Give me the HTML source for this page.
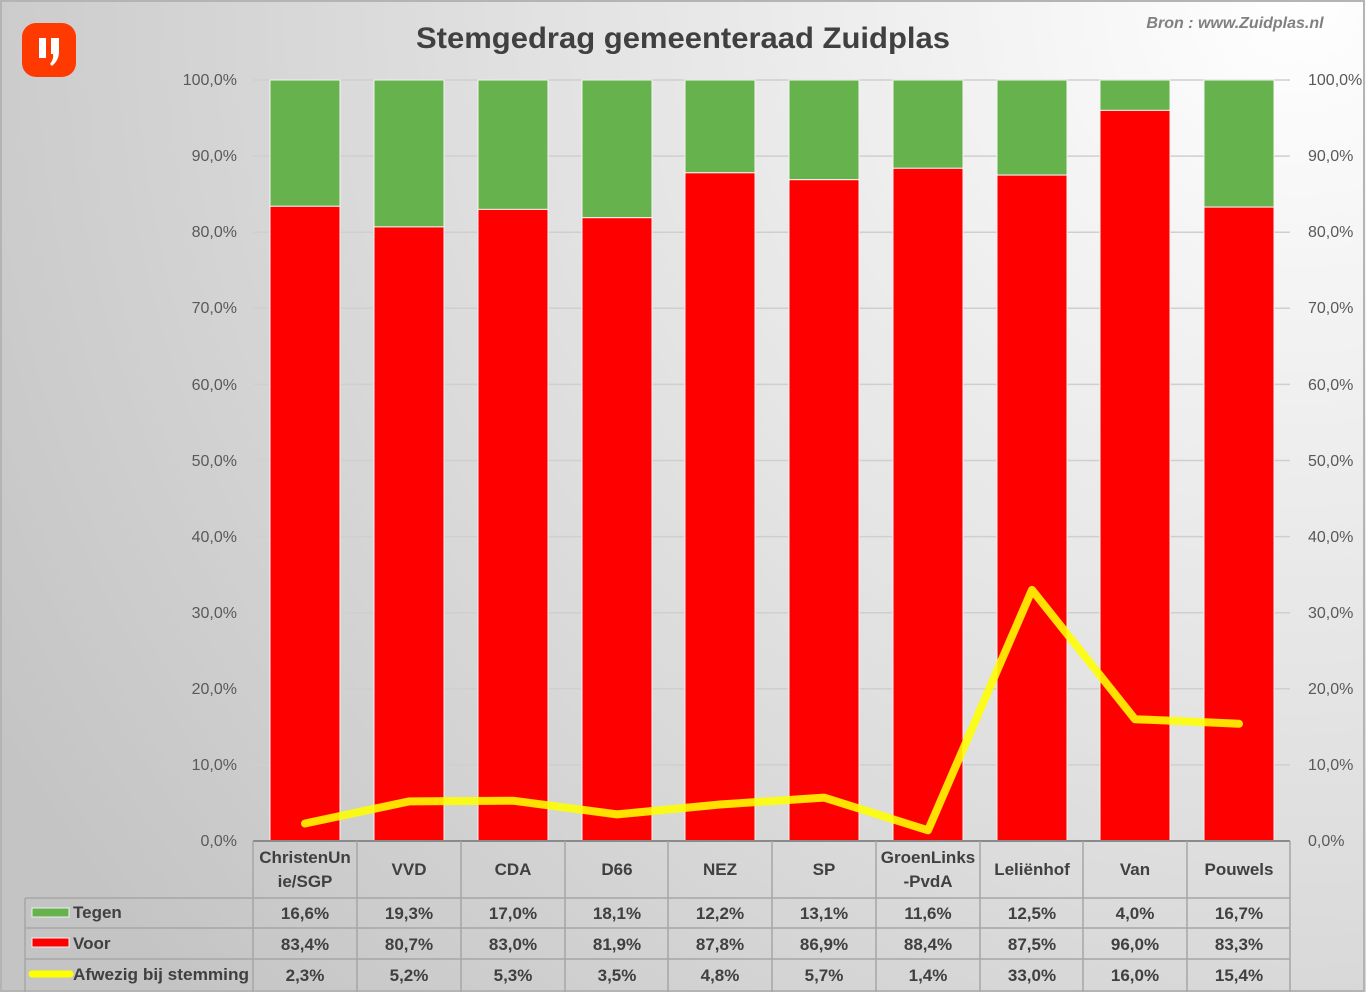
<!DOCTYPE html>
<html><head><meta charset="utf-8"><style>html,body{margin:0;padding:0;width:1366px;height:992px;overflow:hidden}</style></head>
<body>
<svg width="1366" height="992" viewBox="0 0 1366 992" xmlns="http://www.w3.org/2000/svg" font-family="'Liberation Sans', sans-serif">
<defs>
<radialGradient id="bg" cx="1300" cy="0" r="1500" gradientUnits="userSpaceOnUse">
<stop offset="0" stop-color="#ffffff"/><stop offset="0.5" stop-color="#e2e2e2"/><stop offset="1" stop-color="#c4c4c4"/>
</radialGradient>
</defs>
<rect x="0" y="0" width="1366" height="992" fill="url(#bg)"/>
<rect x="1" y="1" width="1363" height="990" fill="none" stroke="#b4b4b4" stroke-width="2"/>
<rect x="22" y="23" width="54" height="54" rx="14" fill="#ff3a00"/>
<rect x="39" y="38" width="7" height="20" fill="#fff"/>
<path d="M51 38 h8 v14 q0 8 -7 14 l-2 -2 q4 -5 3 -10 h-2 z" fill="#fff"/>
<text x="683" y="48" text-anchor="middle" font-size="30" font-weight="bold" fill="#404040" textLength="534" lengthAdjust="spacingAndGlyphs">Stemgedrag gemeenteraad Zuidplas</text>
<text x="1235" y="28" text-anchor="middle" font-size="16" font-weight="bold" font-style="italic" fill="#808080">Bron : www.Zuidplas.nl</text>
<g stroke="#cfcfcf" stroke-width="1.5">
<line x1="253" x2="1290" y1="80" y2="80"/><line x1="253" x2="1290" y1="156.1" y2="156.1"/><line x1="253" x2="1290" y1="232.2" y2="232.2"/><line x1="253" x2="1290" y1="308.3" y2="308.3"/><line x1="253" x2="1290" y1="384.4" y2="384.4"/><line x1="253" x2="1290" y1="460.5" y2="460.5"/><line x1="253" x2="1290" y1="536.6" y2="536.6"/><line x1="253" x2="1290" y1="612.7" y2="612.7"/><line x1="253" x2="1290" y1="688.8" y2="688.8"/><line x1="253" x2="1290" y1="764.9" y2="764.9"/>
</g>
<g font-size="16" fill="#595959" text-anchor="end">
<text x="237" y="85">100,0%</text><text x="237" y="161">90,0%</text><text x="237" y="237">80,0%</text><text x="237" y="313">70,0%</text><text x="237" y="390">60,0%</text><text x="237" y="466">50,0%</text><text x="237" y="542">40,0%</text><text x="237" y="618">30,0%</text><text x="237" y="694">20,0%</text><text x="237" y="770">10,0%</text><text x="237" y="846">0,0%</text>
</g>
<g font-size="16" fill="#595959">
<text x="1308" y="85">100,0%</text><text x="1308" y="161">90,0%</text><text x="1308" y="237">80,0%</text><text x="1308" y="313">70,0%</text><text x="1308" y="390">60,0%</text><text x="1308" y="466">50,0%</text><text x="1308" y="542">40,0%</text><text x="1308" y="618">30,0%</text><text x="1308" y="694">20,0%</text><text x="1308" y="770">10,0%</text><text x="1308" y="846">0,0%</text>
</g>
<g stroke="#f4f4f4" stroke-width="1">
<rect x="270" y="80" width="70" height="126.3" fill="#66b24c"/><rect x="270" y="206.3" width="70" height="634.7" fill="#ff0000"/>
<rect x="374" y="80" width="70" height="146.9" fill="#66b24c"/><rect x="374" y="226.9" width="70" height="614.1" fill="#ff0000"/>
<rect x="478" y="80" width="70" height="129.4" fill="#66b24c"/><rect x="478" y="209.4" width="70" height="631.6" fill="#ff0000"/>
<rect x="582" y="80" width="70" height="137.7" fill="#66b24c"/><rect x="582" y="217.7" width="70" height="623.3" fill="#ff0000"/>
<rect x="685" y="80" width="70" height="92.8" fill="#66b24c"/><rect x="685" y="172.8" width="70" height="668.2" fill="#ff0000"/>
<rect x="789" y="80" width="70" height="99.7" fill="#66b24c"/><rect x="789" y="179.7" width="70" height="661.3" fill="#ff0000"/>
<rect x="893" y="80" width="70" height="88.3" fill="#66b24c"/><rect x="893" y="168.3" width="70" height="672.7" fill="#ff0000"/>
<rect x="997" y="80" width="70" height="95.1" fill="#66b24c"/><rect x="997" y="175.1" width="70" height="665.9" fill="#ff0000"/>
<rect x="1100" y="80" width="70" height="30.4" fill="#66b24c"/><rect x="1100" y="110.4" width="70" height="730.6" fill="#ff0000"/>
<rect x="1204" y="80" width="70" height="127.1" fill="#66b24c"/><rect x="1204" y="207.1" width="70" height="633.9" fill="#ff0000"/>
</g>
<polyline points="305,823.5 409,801.4 513,800.7 617,814.4 720,804.5 824,797.6 928,830.3 1032,589.9 1135,719.2 1239,723.8" fill="none" stroke="#ffff00" stroke-opacity="0.88" stroke-width="8" stroke-linejoin="round" stroke-linecap="round"/>
<line x1="253" x2="1290" y1="841" y2="841" stroke="#8a8a8a" stroke-width="2"/>
<g stroke="#a6a6a6" stroke-width="1.5" fill="none">
<line x1="25" x2="1290" y1="898" y2="898"/><line x1="25" x2="1290" y1="928" y2="928"/><line x1="25" x2="1290" y1="959" y2="959"/>
<line x1="25" x2="25" y1="898" y2="992"/>
<line x1="253" x2="253" y1="841" y2="992"/><line x1="357" x2="357" y1="841" y2="992"/><line x1="461" x2="461" y1="841" y2="992"/><line x1="565" x2="565" y1="841" y2="992"/><line x1="668" x2="668" y1="841" y2="992"/><line x1="772" x2="772" y1="841" y2="992"/><line x1="876" x2="876" y1="841" y2="992"/><line x1="980" x2="980" y1="841" y2="992"/><line x1="1083" x2="1083" y1="841" y2="992"/><line x1="1187" x2="1187" y1="841" y2="992"/><line x1="1290" x2="1290" y1="841" y2="992"/>
</g>
<rect x="32" y="908" width="37" height="9" fill="#66b24c" stroke="#eee" stroke-width="1"/>
<rect x="32" y="938" width="37" height="9" fill="#ff0000" stroke="#eee" stroke-width="1"/>
<line x1="32" x2="70" y1="974" y2="974" stroke="#ffff00" stroke-width="7" stroke-linecap="round"/>
<g font-size="17" font-weight="bold" fill="#404040">
<text x="73" y="918">Tegen</text><text x="73" y="949">Voor</text><text x="73" y="980" textLength="176" lengthAdjust="spacingAndGlyphs">Afwezig bij stemming</text>
</g>
<g font-size="17" font-weight="bold" fill="#404040" text-anchor="middle">
<text x="305" y="863">ChristenUn</text><text x="305" y="887">ie/SGP</text>
<text x="409" y="875">VVD</text><text x="513" y="875">CDA</text><text x="617" y="875">D66</text><text x="720" y="875">NEZ</text><text x="824" y="875">SP</text>
<text x="928" y="863">GroenLinks</text><text x="928" y="887">-PvdA</text>
<text x="1032" y="875">Leliënhof</text><text x="1135" y="875">Van</text><text x="1239" y="875">Pouwels</text>
<text x="305" y="919">16,6%</text><text x="409" y="919">19,3%</text><text x="513" y="919">17,0%</text><text x="617" y="919">18,1%</text><text x="720" y="919">12,2%</text><text x="824" y="919">13,1%</text><text x="928" y="919">11,6%</text><text x="1032" y="919">12,5%</text><text x="1135" y="919">4,0%</text><text x="1239" y="919">16,7%</text>
<text x="305" y="950">83,4%</text><text x="409" y="950">80,7%</text><text x="513" y="950">83,0%</text><text x="617" y="950">81,9%</text><text x="720" y="950">87,8%</text><text x="824" y="950">86,9%</text><text x="928" y="950">88,4%</text><text x="1032" y="950">87,5%</text><text x="1135" y="950">96,0%</text><text x="1239" y="950">83,3%</text>
<text x="305" y="981">2,3%</text><text x="409" y="981">5,2%</text><text x="513" y="981">5,3%</text><text x="617" y="981">3,5%</text><text x="720" y="981">4,8%</text><text x="824" y="981">5,7%</text><text x="928" y="981">1,4%</text><text x="1032" y="981">33,0%</text><text x="1135" y="981">16,0%</text><text x="1239" y="981">15,4%</text>
</g>
</svg>
</body></html>
